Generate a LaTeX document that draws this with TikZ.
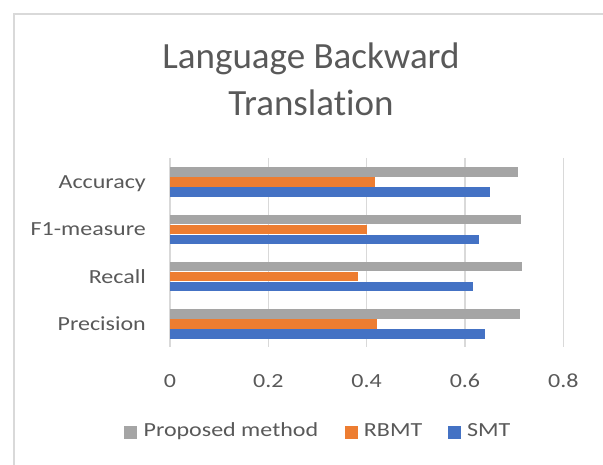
\documentclass[tikz,border=0pt]{standalone}
\usepackage{fontspec}
\setmainfont{Carlito}[Ligatures=NoCommon]
\newfontfamily\lblfont{Carlito}[FakeStretch=1.2,Ligatures=NoCommon]
\usetikzlibrary{positioning}
\definecolor{txtgray}{HTML}{595959}
\definecolor{gridgray}{HTML}{D9D9D9}
\definecolor{propgray}{HTML}{A5A5A5}
\definecolor{rbmtorange}{HTML}{ED7D31}
\definecolor{smtblue}{HTML}{4472C4}
\begin{document}
\begin{tikzpicture}[x=1pt,y=-1pt,
  lbl/.style={text=txtgray,inner sep=0pt,font=\lblfont\fontsize{20}{24}\selectfont,text height=12.9pt,text depth=0pt},
  ttl/.style={text=txtgray,inner sep=0pt,font=\fontsize{37}{47}\selectfont},
  legsq/.style={minimum size=13pt,inner sep=0pt}]
\useasboundingbox (0,0) rectangle (603,465);
\draw[gridgray,line width=1.5pt] (603,14)--(14,14)--(14,465);
% title
\node[ttl,anchor=base] (title) at (311,69) {Language Backward};
\node[ttl,anchor=base] (title2) at ([yshift=-47pt]title.base) {Translation};
% grid and ticks
\foreach \v/\n in {0/0,0.2/2,0.4/4,0.6/6,0.8/8} {
  \draw[gridgray,line width=1.5pt] ({170+491.6*\v},158)--({170+491.6*\v},347);
  \node[lbl] (tick\n) at ({170+491.6*\v},381) {\v};
}
% bars
\foreach \k/\name/\yc/\p/\r/\s in {acc/Accuracy/182/0.708/0.416/0.650,
    fone/F1-measure/229.3/0.714/0.401/0.628,
    rec/Recall/276.7/0.717/0.382/0.616,
    prec/Precision/324/0.712/0.422/0.640} {
  \fill[propgray] (170,\yc-14.7) rectangle ({170+491.6*\p},\yc-5.3);
  \fill[rbmtorange] (170,\yc-4.7) rectangle ({170+491.6*\r},\yc+4.7);
  \fill[smtblue] (170,\yc+5.3) rectangle ({170+491.6*\s},\yc+14.7);
  \node[lbl,anchor=east] (cat\k) at (146,\yc) {\name};
}
% legend
\node[legsq,fill=propgray] (sqprop) at (130.7,432.5) {};
\node[lbl,right=6pt of sqprop,yshift=2pt] (legprop) {Proposed method};
\node[legsq,fill=rbmtorange,right=26pt of legprop,yshift=-2pt] (sqrbmt) {};
\node[lbl,right=6pt of sqrbmt,yshift=2pt] (legrbmt) {RBMT};
\node[legsq,fill=smtblue,right=25pt of legrbmt,yshift=-2pt] (sqsmt) {};
\node[lbl,right=6pt of sqsmt,yshift=2pt] (legsmt) {SMT};
\end{tikzpicture}
\end{document}
